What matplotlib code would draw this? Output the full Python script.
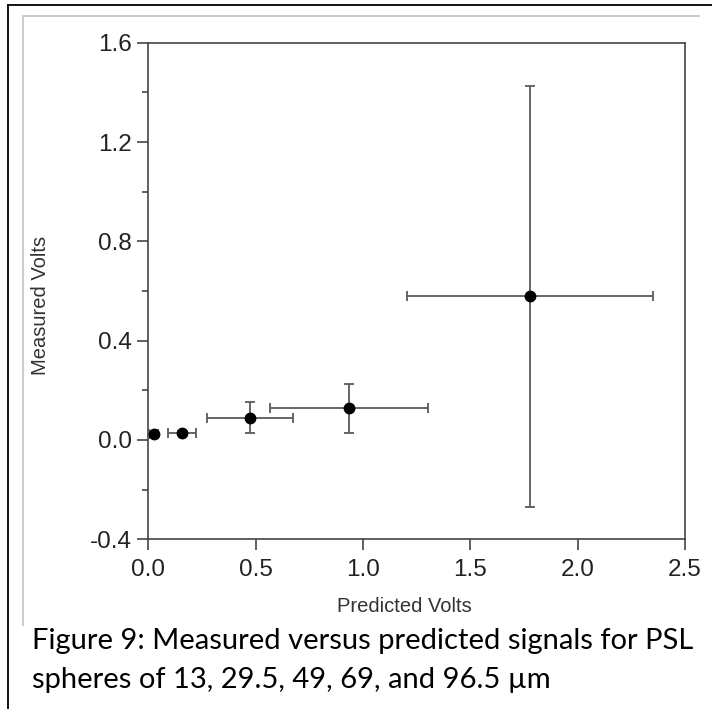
import matplotlib
matplotlib.use('Agg')
import matplotlib.pyplot as plt
from matplotlib.lines import Line2D

# predicted vs measured volts for PSL spheres (13, 29.5, 49, 69, 96.5 um)
predicted = [0.025, 0.156, 0.474, 0.935, 1.778]
predicted_err = [0.02, 0.065, 0.20, 0.367, 0.572]
measured = [0.023, 0.029, 0.090, 0.127, 0.578]
measured_err = [0.012, 0.008, 0.063, 0.097, 0.847]

xticks = [0.0, 0.5, 1.0, 1.5, 2.0, 2.5]
yticks = [-0.4, 0.0, 0.4, 0.8, 1.2, 1.6]
caption = ['Figure 9: Measured versus predicted signals for PSL',
           'spheres of 13, 29.5, 49, 69, and 96.5 \u00b5m']

plt.rcParams['font.family'] = ['Liberation Sans', 'DejaVu Sans']

W, H = 712, 709
fig = plt.figure(figsize=(W / 100, H / 100), dpi=100)

def fx(px):
    return px / W

def fy(py):
    return 1 - py / H

ax = fig.add_axes([fx(148.3), fy(539.3), fx(685) - fx(148.3), fy(42.7) - fy(539.3)])

ax.errorbar(predicted, measured, xerr=predicted_err, yerr=measured_err,
            fmt='o', color='black', markersize=7.5, ecolor='#5a5a5a',
            elinewidth=1.3, capsize=3.8, capthick=1.3, zorder=3)

ax.set_xlim(0, 2.5)
ax.set_ylim(-0.4, 1.6)
ax.set_xticks(xticks)
ax.set_yticks(yticks)
ax.set_xticklabels(['%.1f' % v for v in xticks])
ax.set_yticklabels(['%.1f' % v for v in yticks])
ax.set_yticks([-0.2, 0.2, 0.6, 1.0, 1.4], minor=True)

for s in ax.spines.values():
    s.set_color('#444444')
    s.set_linewidth(1.2)
ax.tick_params(which='major', direction='out', length=8, width=1.2, color='#444444',
               labelsize=17.5, labelcolor='#222222')
ax.tick_params(axis='x', pad=6)
ax.tick_params(axis='y', pad=4)
ax.tick_params(which='minor', direction='out', length=4, width=1.2, color='#444444')
ax.tick_params(top=False, right=False)

fig.text(fx(404), fy(606), 'Predicted Volts', ha='center', va='center',
         fontsize=14.5, color='#333333')
fig.text(fx(40), fy(305), 'Measured Volts', ha='center', va='center',
         rotation=90, fontsize=14.5, color='#333333')

# caption below the chart
fig.text(fx(32), fy(641), caption[0], ha='left', va='center',
         fontsize=21, family=['Lato', 'DejaVu Sans'], color='black')
fig.text(fx(32), fy(680), caption[1], ha='left', va='center',
         fontsize=21, family=['Lato', 'DejaVu Sans'], color='black')

# page frame lines
fig.add_artist(Line2D([fx(8), 1], [fy(5), fy(5)], color='black', lw=1.3))
fig.add_artist(Line2D([fx(8), fx(8)], [fy(5), 0], color='black', lw=1.3))
fig.add_artist(Line2D([fx(23), fx(699)], [fy(16), fy(16)], color='#cccccc', lw=1.5))
fig.add_artist(Line2D([fx(23), fx(23)], [fy(16), fy(625)], color='#cccccc', lw=1.5))

fig.savefig('out.png', dpi=100)
